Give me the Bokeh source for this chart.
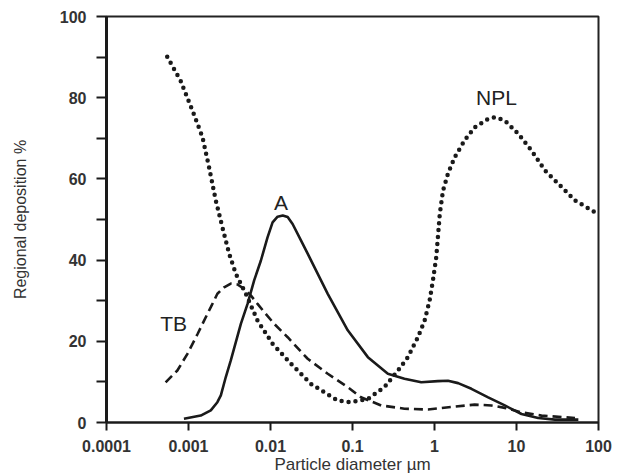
from bokeh.plotting import figure
from bokeh.models import Range1d, FixedTicker, ColumnDataSource
from bokeh.core.properties import value
from bokeh.embed import file_html
from bokeh.resources import INLINE

# ---- data (particle diameter in µm, regional deposition in %) ----
a_x = [0.00088, 0.00141, 0.00187, 0.00225, 0.00248, 0.00285, 0.00328, 0.00435, 0.00525,
       0.00632, 0.00764, 0.0092, 0.0106, 0.0122, 0.0141, 0.0162, 0.0186, 0.0236, 0.0284,
       0.0499, 0.0875, 0.154, 0.270, 0.430, 0.690, 1.10, 1.46, 1.94, 2.82, 4.51, 7.19,
       11.5, 18.4, 29.4, 56.8]
a_y = [0.9, 1.7, 3.0, 5.0, 6.7, 11.2, 15.3, 24.3, 29.2,
       35.0, 39.9, 45.6, 49.3, 50.7, 51.0, 50.6, 48.9, 44.8, 41.6,
       31.7, 22.7, 16.1, 12.0, 10.8, 9.9, 10.2, 10.3, 9.7, 8.3, 6.2, 4.2,
       2.1, 1.1, 0.7, 0.7]

tb_x = [0.000526, 0.000731, 0.00097, 0.00129, 0.00155, 0.00187, 0.00225, 0.00272, 0.00328,
        0.00396, 0.00478, 0.00575, 0.00695, 0.00838, 0.0111, 0.0162, 0.0284, 0.0499, 0.0875,
        0.127, 0.224, 0.430, 0.832, 1.76, 3.09, 4.94, 7.19, 11.5, 20.2, 51.6]
tb_y = [9.9, 12.8, 16.9, 21.8, 25.1, 28.4, 31.7, 33.3, 34.2,
        34.0, 32.9, 31.3, 29.2, 27.2, 24.3, 21.0, 15.7, 12.0, 8.7,
        6.2, 4.2, 3.4, 3.2, 3.9, 4.4, 4.2, 3.6, 2.5, 1.7, 1.1]

npl_x = [0.00055, 0.0008, 0.00112, 0.00148, 0.00178, 0.00215, 0.00259, 0.00313, 0.00378,
         0.005, 0.00695, 0.0106, 0.0177, 0.0312, 0.0661, 0.0962, 0.154, 0.245, 0.358,
         0.474, 0.628, 0.757, 0.871, 0.957, 1.05, 1.10, 1.16, 1.27, 1.46, 1.76, 2.33,
         3.09, 4.51, 5.43, 7.19, 10.5, 15.2, 22.2, 32.4, 51.6, 90.6]
npl_y = [90.1, 84.2, 76.8, 70.3, 62.9, 54.7, 48.1, 41.6, 36.6,
         31.7, 25.1, 19.4, 14.5, 9.5, 5.4, 5.0, 5.8, 8.7, 12.8,
         16.1, 21.0, 25.1, 30.0, 35.0, 40.7, 45.6, 51.4, 57.1, 61.3, 65.3, 69.5,
         72.7, 74.8, 75.2, 74.4, 71.1, 67.0, 62.1, 58.8, 54.7, 51.8]

label_text = ["TB", "A", "NPL"]
label_x = [0.00066, 0.0134, 5.7]
label_y = [24.4, 54.2, 80.0]

x_ticks = [0.0001, 0.001, 0.01, 0.1, 1, 10, 100]
x_tick_labels = ["0.0001", "0.001", "0.01", "0.1", "1", "10", "100"]
y_ticks = [0, 20, 40, 60, 80, 100]
y_minor_ticks = [10, 30, 50, 70, 90]

FONT = "Liberation Sans"
INK = "#1a1a1a"

p = figure(width=612, height=476, x_axis_type="log",
           x_range=Range1d(0.0001, 100), y_range=Range1d(0, 100),
           output_backend="svg", toolbar_location=None,
           min_border_left=106, min_border_right=14, min_border_top=16, min_border_bottom=54)

p.xgrid.visible = False
p.ygrid.visible = False
p.outline_line_color = "#222222"
p.outline_line_width = 2
p.background_fill_color = "white"
p.border_fill_color = "white"

p.line(a_x, a_y, line_color=INK, line_width=2.6)
p.line(tb_x, tb_y, line_color=INK, line_width=2.6, line_dash="9 5")
p.line(npl_x, npl_y, line_color=INK, line_width=4.5, line_dash="0 7", line_cap="round")

src = ColumnDataSource(dict(x=label_x, y=label_y, t=label_text))
p.text("x", "y", text="t", source=src, text_align="center", text_baseline="middle",
       text_font=value(FONT), text_font_size="21px", text_color="#222222")

# axes
xa = p.xaxis[0]
xa.ticker = FixedTicker(ticks=x_ticks, minor_ticks=[])
xa.major_label_overrides = {t: s for t, s in zip(x_ticks, x_tick_labels)}
ya = p.yaxis[0]
ya.ticker = FixedTicker(ticks=y_ticks, minor_ticks=y_minor_ticks)

for ax in (xa, ya):
    ax.axis_line_color = INK
    ax.major_tick_line_color = INK
    ax.minor_tick_line_color = INK
    ax.major_tick_line_width = 2
    ax.minor_tick_line_width = 2
    ax.major_tick_in = 0
    ax.minor_tick_in = 0
    ax.major_label_text_font = FONT
    ax.major_label_text_font_style = "bold"
    ax.major_label_text_font_size = "16px"
    ax.major_label_text_color = "#333333"
    ax.axis_label_text_font = FONT
    ax.axis_label_text_font_style = "normal"
    ax.axis_label_text_color = "#333333"

xa.axis_line_width = 2
xa.major_tick_out = 8
xa.major_label_standoff = 9
xa.axis_label = "Particle diameter µm"
xa.axis_label_text_font_size = "17px"
xa.axis_label_standoff = 0

ya.axis_line_width = 3
ya.major_tick_out = 10
ya.minor_tick_out = 10
ya.major_label_standoff = 10
ya.axis_label = "Regional deposition %"
ya.axis_label_text_font_size = "16px"
ya.axis_label_standoff = 28

open("out.html", "w").write(file_html(p, INLINE))
